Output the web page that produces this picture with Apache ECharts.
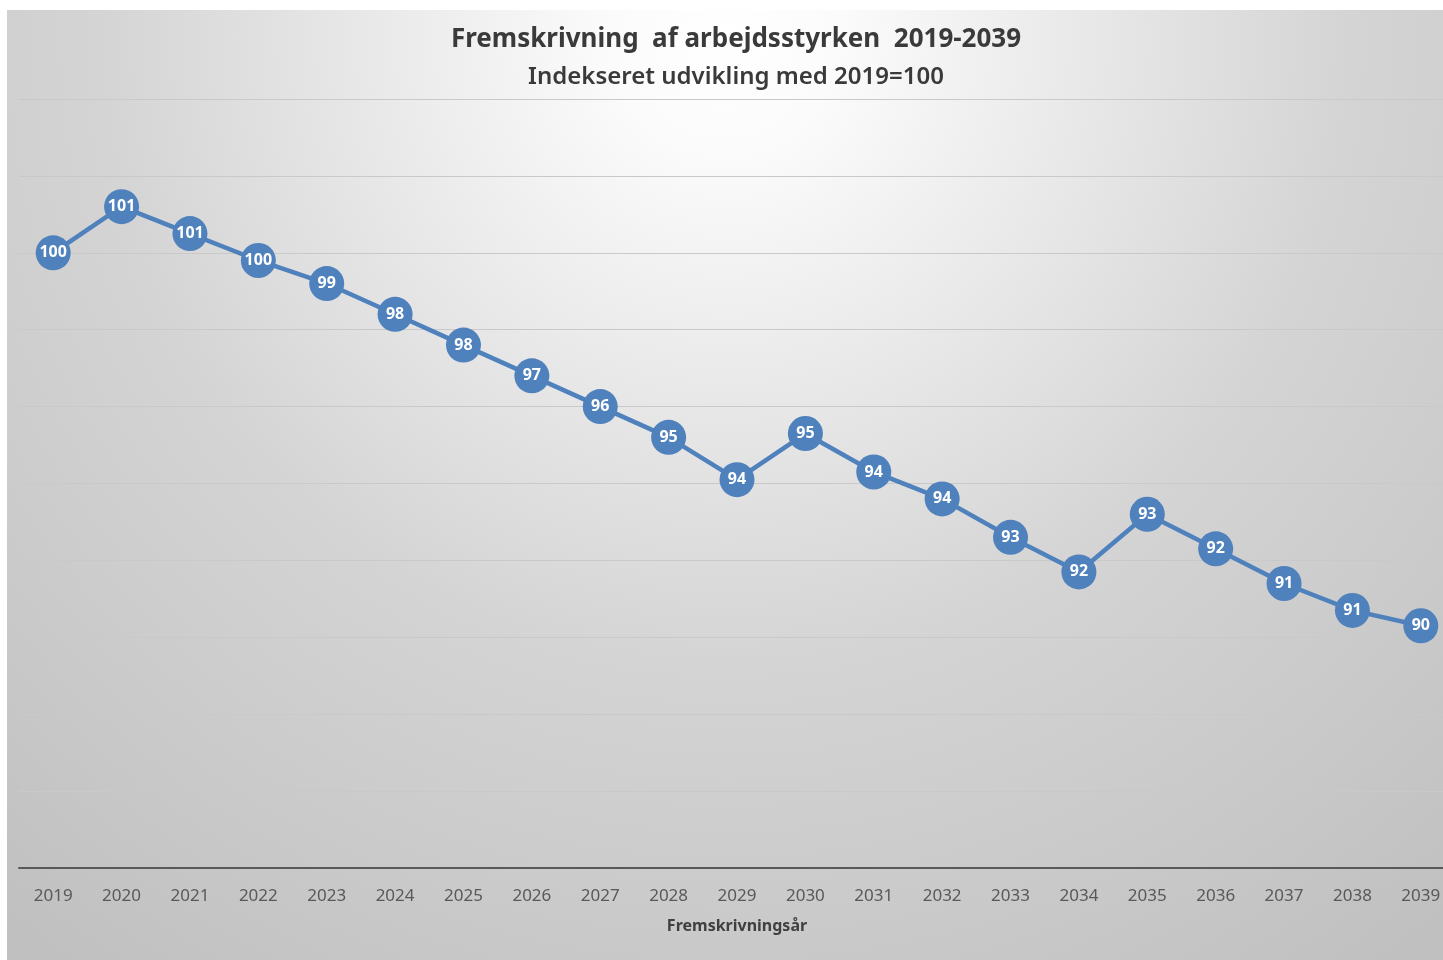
<!DOCTYPE html>
<html>
<head>
<meta charset="utf-8">
<script src="https://cdn.jsdelivr.net/npm/echarts@6/dist/echarts.min.js"></script>
<style>
html,body{margin:0;padding:0;background:#fff;overflow:hidden;width:1443px;height:960px;}
#chart{width:1470px;height:960px;}
</style>
</head>
<body>
<div id="chart"></div>
<script>
const years = ['2019','2020','2021','2022','2023','2024','2025','2026','2027','2028','2029','2030','2031','2032','2033','2034','2035','2036','2037','2038','2039'];
const indexValues = [100.0, 101.2, 100.5, 99.8, 99.2, 98.4, 97.6, 96.8, 96.0, 95.2, 94.1, 95.3, 94.3, 93.6, 92.6, 91.7, 93.2, 92.3, 91.4, 90.7, 90.3];
const titleText = 'Fremskrivning  af arbejdsstyrken  2019-2039';
const subtitleText = 'Indekseret udvikling med 2019=100';
const xAxisName = 'Fremskrivningsår';

const chart = echarts.init(document.getElementById('chart'), null, {renderer: 'canvas'});
const FONT = 'Noto Sans';
chart.setOption({
  animation: false,
  backgroundColor: '#ffffff',
  graphic: [{
    type: 'rect', z: -10, silent: true,
    shape: {x: 7, y: 10, width: 1436, height: 950},
    style: {
      fill: {
        type: 'radial', x: 0.5, y: 0.03, r: 1.2,
        colorStops: [
          {offset: 0, color: '#ffffff'},
          {offset: 0.1, color: '#fbfbfb'},
          {offset: 0.55, color: '#d4d4d4'},
          {offset: 1, color: '#c0c0c0'}
        ]
      }
    }
  }],
  title: [{
    text: titleText, left: 731, top: 22, textAlign: 'center',
    textStyle: {fontFamily: FONT, fontWeight: 'bold', fontSize: 26, color: '#3a3a3a'}
  }, {
    text: subtitleText, left: 731, top: 60, textAlign: 'center',
    textStyle: {fontFamily: FONT, fontWeight: 600, fontSize: 24, color: '#3a3a3a'}
  }],
  grid: {left: 19, top: 99, width: 1436, height: 769, containLabel: false},
  xAxis: {
    type: 'category', data: years, boundaryGap: true,
    axisLine: {lineStyle: {color: '#595959', width: 2}},
    axisTick: {show: false},
    axisLabel: {fontFamily: FONT, fontSize: 17, color: '#595959', margin: 20},
    name: xAxisName, nameLocation: 'middle', nameGap: 50,
    nameTextStyle: {fontFamily: FONT, fontWeight: 'bold', fontSize: 16, color: '#404040'},
    splitLine: {show: false}
  },
  yAxis: {
    type: 'value', min: 84, max: 104, interval: 2,
    axisLine: {show: false}, axisTick: {show: false}, axisLabel: {show: false},
    splitLine: {lineStyle: {color: '#c9c9c9', width: 1}}
  },
  series: [{
    type: 'line', data: indexValues,
    symbol: 'circle', symbolSize: 35,
    lineStyle: {color: '#4f81bd', width: 4.5},
    itemStyle: {color: '#4f81bd'},
    label: {
      show: true, position: 'inside',
      fontFamily: FONT, fontWeight: 'bold', fontSize: 16, color: '#ffffff',
      formatter: p => String(Math.round(p.value))
    }
  }]
});
</script>
</body>
</html>
